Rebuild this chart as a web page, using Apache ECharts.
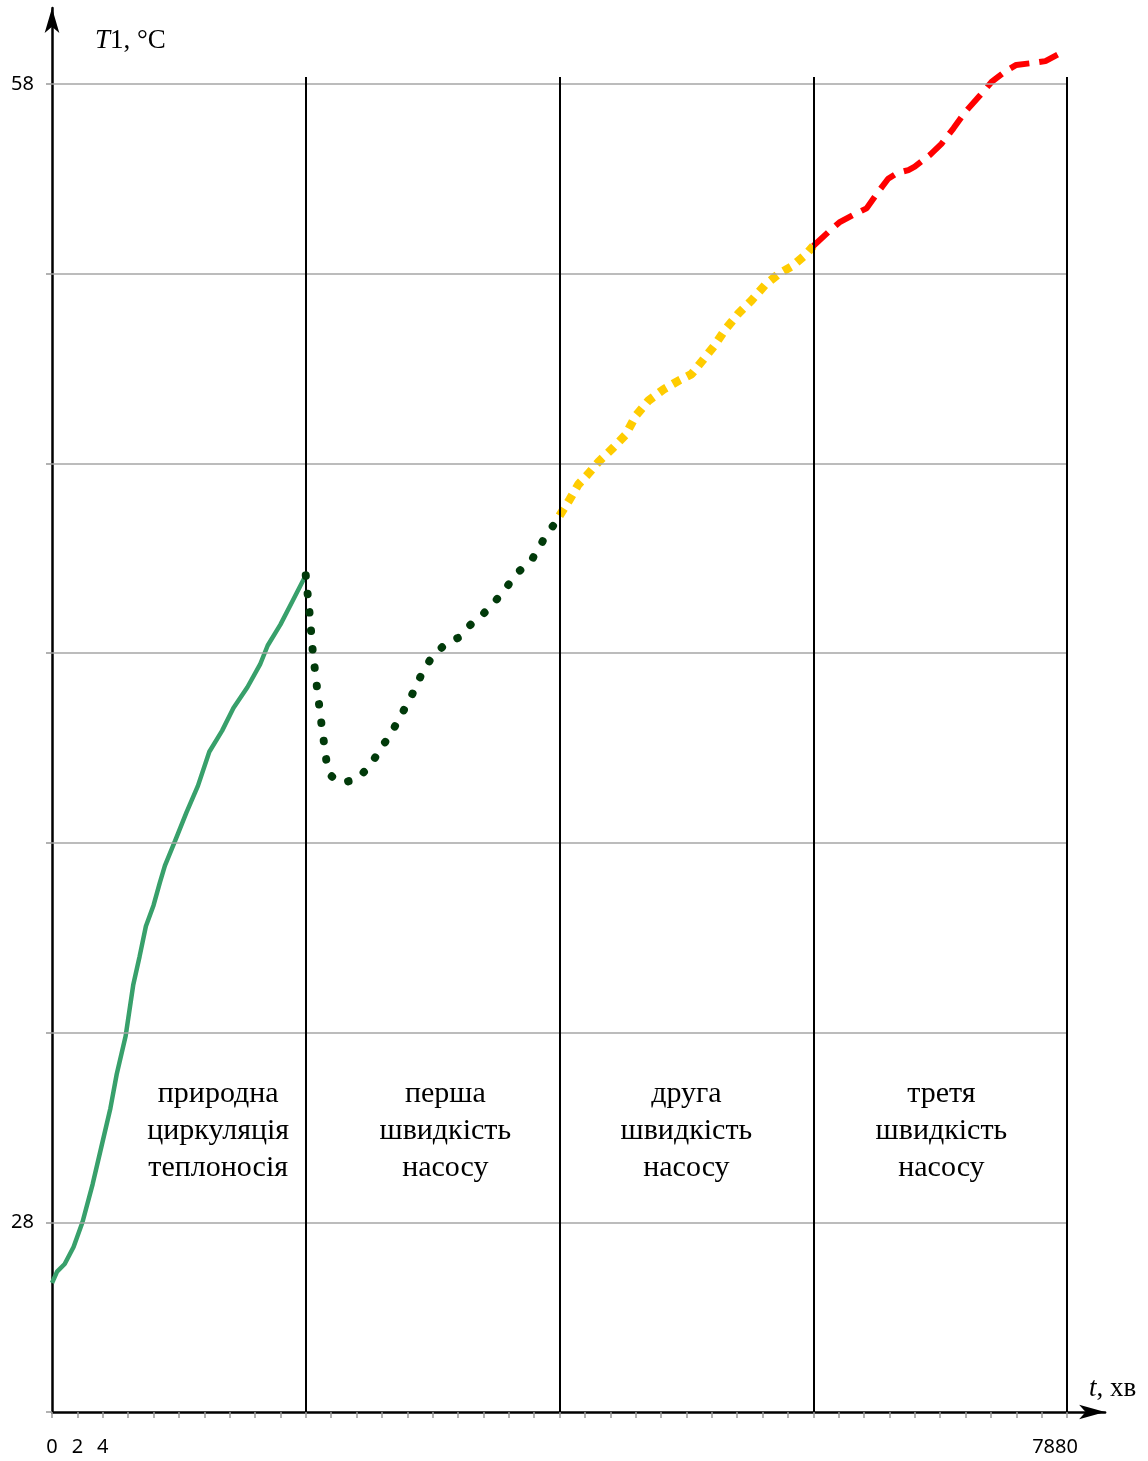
<!DOCTYPE html>
<html>
<head>
<meta charset="utf-8">
<script src="https://cdn.jsdelivr.net/npm/echarts@6/dist/echarts.min.js"></script>
<style>
  html, body { margin: 0; padding: 0; background: #fff; }
  #chart { width: 1148px; height: 1461px; }
</style>
</head>
<body>
<div id="chart"></div>
<script>
// Natural circulation of the heat carrier (0–20 h)
const tGreen = [0, 0.4, 1.0, 1.7, 2.4, 3.2, 3.9, 4.6, 5.1, 5.8, 6.4, 6.9, 7.4, 8.0, 8.5, 8.9, 9.7, 10.6, 11.5, 12.4, 13.4, 14.3, 15.4, 16.4, 17.0, 18.0, 19.0, 20];
const TGreen = [26.4, 26.7, 26.9, 27.35, 28.0, 29.0, 30.0, 31.0, 31.9, 32.9, 34.25, 35.0, 35.8, 36.35, 36.95, 37.4, 38.05, 38.8, 39.5, 40.4, 40.95, 41.55, 42.1, 42.7, 43.2, 43.75, 44.4, 45.05];

// Pump, first speed (20–40)
const tFirst = [20, 20.3, 20.55, 20.9, 21.25, 21.65, 21.9, 22.45, 23.1, 24.0, 25.0, 25.85, 26.75, 27.9, 28.6, 29.2, 29.95, 31.05, 32.0, 33.0, 33.9, 34.9, 35.85, 36.8, 37.8, 38.85, 39.8, 40];
const TFirst = [45.05, 44.05, 43.05, 42.05, 41.1, 40.1, 39.8, 39.62, 39.6, 39.68, 40.0, 40.45, 40.9, 41.6, 42.05, 42.5, 42.9, 43.25, 43.4, 43.75, 44.0, 44.35, 44.75, 45.15, 45.45, 46.05, 46.5, 46.62];

// Pump, second speed (40–60)
const tSecond = [40, 40.8, 41.5, 42.2, 43.1, 44.2, 45.2, 46.0, 47.0, 48.2, 49.5, 50.4, 51.25, 52.2, 53.0, 54.1, 55.15, 56.2, 57.3, 58.35, 59.4, 60];
const TSecond = [46.62, 47.05, 47.45, 47.7, 48.05, 48.4, 48.75, 49.25, 49.65, 49.95, 50.2, 50.35, 50.7, 51.1, 51.5, 51.95, 52.3, 52.7, 53.0, 53.2, 53.5, 53.73];

// Pump, third speed (60–80)
const tThird = [60, 61.2, 62.05, 63.15, 64.2, 65.0, 65.9, 66.6, 67.5, 68.0, 69.2, 70.1, 71.05, 71.95, 73.15, 74.05, 75.1, 76.0, 77.5, 78.3, 79.6];
const TThird = [53.73, 54.1, 54.35, 54.55, 54.72, 55.1, 55.5, 55.65, 55.73, 55.82, 56.13, 56.42, 56.83, 57.25, 57.7, 58.05, 58.32, 58.5, 58.56, 58.6, 58.83];

// Axes
const xTicks = [0, 2, 4, 6, 8, 10, 12, 14, 16, 18, 20, 22, 24, 26, 28, 30, 32, 34, 36, 38, 40, 42, 44, 46, 48, 50, 52, 54, 56, 58, 60, 62, 64, 66, 68, 70, 72, 74, 76, 78, 80];
const xLabelAt = [0, 2, 4, 80];
const xLabelText = ['0', '2', '4', '7880'];
const yTicks = [23, 28, 33, 38, 43, 48, 53, 58];
const yLabelAt = [28, 58];
const yGrid = [28, 33, 38, 43, 48, 53, 58];
const stageBounds = [20, 40, 60, 80];

// Stage captions
const stageLabels = [
  'природна\nциркуляція\nтеплоносія',
  'перша\nшвидкість\nнасосу',
  'друга\nшвидкість\nнасосу',
  'третя\nшвидкість\nнасосу'
];
const stageLabelT = [13.1, 31.0, 50.0, 70.1];
const stageLabelY = 30.4;

const zip = (a, b) => a.map((v, i) => [v, b[i]]);

const gridMarks = yGrid.map(v => [
  { coord: [0, v], lineStyle: { color: '#a6a6a6', width: 1.5, type: 'solid' } },
  { coord: [80, v] }
]);
const stageMarks = stageBounds.map(v => [
  { coord: [v, 23], lineStyle: { color: '#000', width: 2, type: 'solid' } },
  { coord: [v, 58.18] }
]);

const serif = '"Liberation Serif", "Times New Roman", serif';
const sans = '"Noto Sans", sans-serif';

const chart = echarts.init(document.getElementById('chart'), null, { renderer: 'canvas' });
chart.setOption({
  backgroundColor: '#fff',
  animation: false,
  grid: { left: 52, right: 42.9, top: 8, bottom: 49, outerBoundsMode: 'none' },
  xAxis: {
    type: 'value', min: 0, max: 83,
    splitLine: { show: false },
    axisLine: {
      show: true, onZero: false,
      lineStyle: { color: '#000', width: 2.5 },
      symbol: ['none', 'arrow'], symbolSize: [11, 26]
    },
    axisTick: { show: true, customValues: xTicks, length: 6, lineStyle: { color: '#999', width: 1.5 } },
    axisLabel: {
      show: true, customValues: xLabelAt, margin: 25,
      fontFamily: sans, fontSize: 20, color: '#000',
      formatter: v => {
        const i = xLabelAt.indexOf(v);
        const s = i >= 0 ? xLabelText[i] : '';
        return v === 80 ? '{r|' + s + '}' : s;
      },
      rich: { r: { fontFamily: sans, fontSize: 20, color: '#000', padding: [0, 24, 0, 0] } }
    }
  },
  yAxis: {
    type: 'value', min: 23, max: 60,
    splitLine: { show: false },
    axisLine: {
      show: true, onZero: false,
      lineStyle: { color: '#000', width: 2.5 },
      symbol: ['none', 'arrow'], symbolSize: [11, 25]
    },
    axisTick: { show: true, customValues: yTicks, length: 6, lineStyle: { color: '#999', width: 1.5 } },
    axisLabel: {
      show: true, customValues: yLabelAt, margin: 18,
      fontFamily: sans, fontSize: 20, color: '#000', padding: [6, 0, 0, 0]
    }
  },
  graphic: [
    {
      type: 'text', left: 95, top: 27,
      style: {
        text: '{i|T}{n|1, °C}',
        rich: {
          i: { fontFamily: serif, fontStyle: 'italic', fontSize: 27, fill: '#000' },
          n: { fontFamily: serif, fontSize: 27, fill: '#000' }
        }
      }
    },
    {
      type: 'text', left: 1089, top: 1375,
      style: {
        text: '{i|t}{n|, хв}',
        rich: {
          i: { fontFamily: serif, fontStyle: 'italic', fontSize: 27, fill: '#000' },
          n: { fontFamily: serif, fontSize: 27, fill: '#000' }
        }
      }
    }
  ],
  series: [
    {
      name: 'frame', type: 'line', data: [], z: 1, silent: true,
      markLine: {
        silent: true, symbol: ['none', 'none'], label: { show: false },
        animation: false,
        data: gridMarks.concat(stageMarks)
      }
    },
    {
      name: 'captions', type: 'scatter', z: 3, silent: true,
      symbolSize: 0,
      itemStyle: { color: '#000' },
      data: stageLabelT.map((t, i) => ({ value: [t, stageLabelY], caption: stageLabels[i] })),
      label: {
        show: true, position: 'inside',
        formatter: p => p.data.caption,
        fontFamily: serif, fontSize: 30, lineHeight: 37, color: '#000', align: 'center',
        textBorderWidth: 0, textShadowBlur: 0, opacity: 1
      }
    },
    {
      name: 'природна циркуляція', type: 'line', z: 4,
      data: zip(tGreen, TGreen), showSymbol: false,
      lineStyle: { color: '#38a06b', width: 4.5 }
    },
    {
      name: 'перша швидкість', type: 'line', z: 5,
      data: zip(tFirst, TFirst), showSymbol: false,
      lineStyle: { color: '#013a0a', width: 8, type: [0.5, 18], cap: 'round' }
    },
    {
      name: 'друга швидкість', type: 'line', z: 4,
      data: zip(tSecond, TSecond), showSymbol: false,
      lineStyle: { color: '#ffcc00', width: 8.5, type: [8.5, 7.5], cap: 'butt' }
    },
    {
      name: 'третя швидкість', type: 'line', z: 4,
      data: zip(tThird, TThird), showSymbol: false,
      lineStyle: { color: '#ff0000', width: 6, type: [20, 10], cap: 'butt' }
    }
  ]
});
</script>
</body>
</html>
